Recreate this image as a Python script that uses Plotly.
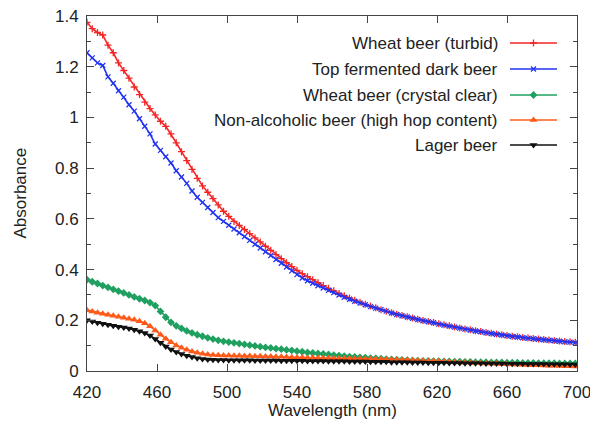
import plotly.graph_objects as go

# Wavelength grid (nm), one reading every 3 nm
wavelength = list(range(420, 700, 3))

wheat_turbid = [
    1.375, 1.350, 1.335, 1.325, 1.285, 1.255, 1.215, 1.185, 1.155, 1.120,
    1.090, 1.060, 1.035, 1.010, 0.985, 0.965, 0.935, 0.900, 0.865, 0.830,
    0.795, 0.760, 0.730, 0.705, 0.680, 0.655, 0.630, 0.610, 0.590, 0.574,
    0.558, 0.542, 0.525, 0.509, 0.492, 0.476, 0.459, 0.443, 0.427, 0.412,
    0.397, 0.384, 0.372, 0.360, 0.348, 0.337, 0.326, 0.316, 0.306, 0.297,
    0.288, 0.279, 0.271, 0.263, 0.256, 0.249, 0.242, 0.236, 0.230, 0.224,
    0.219, 0.214, 0.209, 0.204, 0.199, 0.195, 0.191, 0.186, 0.182, 0.178,
    0.174, 0.170, 0.166, 0.163, 0.159, 0.156, 0.152, 0.149, 0.146, 0.143,
    0.140, 0.137, 0.135, 0.132, 0.130, 0.128, 0.126, 0.124, 0.122, 0.120,
    0.118, 0.116, 0.115, 0.113,
]

top_fermented_dark = [
    1.255, 1.235, 1.215, 1.205, 1.160, 1.135, 1.105, 1.080, 1.050, 1.025,
    0.995, 0.965, 0.935, 0.895, 0.870, 0.845, 0.820, 0.790, 0.765, 0.740,
    0.710, 0.685, 0.665, 0.645, 0.625, 0.605, 0.590, 0.575, 0.560, 0.545,
    0.530, 0.515, 0.500, 0.485, 0.470, 0.455, 0.440, 0.425, 0.410, 0.395,
    0.380, 0.367, 0.356, 0.346, 0.336, 0.327, 0.318, 0.309, 0.300, 0.291,
    0.283, 0.275, 0.268, 0.261, 0.254, 0.248, 0.242, 0.236, 0.229, 0.223,
    0.218, 0.213, 0.208, 0.203, 0.198, 0.194, 0.190, 0.185, 0.181, 0.177,
    0.173, 0.169, 0.165, 0.162, 0.158, 0.155, 0.151, 0.148, 0.145, 0.142,
    0.139, 0.136, 0.134, 0.131, 0.129, 0.127, 0.125, 0.123, 0.121, 0.119,
    0.117, 0.115, 0.114, 0.112,
]

wheat_crystal_clear = [
    0.360, 0.352, 0.345, 0.337, 0.330, 0.322, 0.315, 0.308, 0.300, 0.292,
    0.285, 0.278, 0.270, 0.258, 0.235, 0.212, 0.192, 0.178, 0.168, 0.158,
    0.150, 0.143, 0.137, 0.131, 0.126, 0.121, 0.117, 0.114, 0.111, 0.108,
    0.105, 0.102, 0.099, 0.096, 0.093, 0.091, 0.088, 0.086, 0.083, 0.081,
    0.078, 0.076, 0.073, 0.071, 0.069, 0.067, 0.065, 0.063, 0.061, 0.059,
    0.057, 0.056, 0.054, 0.053, 0.051, 0.050, 0.049, 0.047, 0.046, 0.045,
    0.044, 0.043, 0.042, 0.041, 0.040, 0.040, 0.039, 0.039, 0.038, 0.038,
    0.037, 0.037, 0.036, 0.036, 0.035, 0.035, 0.035, 0.034, 0.034, 0.034,
    0.033, 0.033, 0.033, 0.032, 0.032, 0.032, 0.031, 0.031, 0.031, 0.031,
    0.030, 0.030, 0.030, 0.030,
]

non_alcoholic_hop = [
    0.240, 0.235, 0.230, 0.226, 0.222, 0.218, 0.214, 0.210, 0.206, 0.202,
    0.196, 0.188, 0.176, 0.160, 0.143, 0.127, 0.113, 0.101, 0.092, 0.084,
    0.077, 0.072, 0.068, 0.065, 0.063, 0.062, 0.061, 0.061, 0.060, 0.060,
    0.059, 0.059, 0.058, 0.058, 0.057, 0.057, 0.056, 0.056, 0.055, 0.054,
    0.053, 0.053, 0.052, 0.052, 0.051, 0.051, 0.050, 0.050, 0.049, 0.049,
    0.049, 0.048, 0.048, 0.047, 0.047, 0.046, 0.046, 0.045, 0.045, 0.044,
    0.043, 0.043, 0.042, 0.041, 0.040, 0.039, 0.039, 0.038, 0.037, 0.036,
    0.035, 0.034, 0.034, 0.033, 0.032, 0.031, 0.030, 0.030, 0.029, 0.028,
    0.027, 0.026, 0.026, 0.025, 0.024, 0.023, 0.023, 0.022, 0.021, 0.021,
    0.020, 0.019, 0.019, 0.018,
]

lager = [
    0.200, 0.195, 0.190, 0.186, 0.182, 0.178, 0.175, 0.172, 0.168, 0.163,
    0.157, 0.150, 0.140, 0.126, 0.111, 0.097, 0.085, 0.075, 0.067, 0.060,
    0.055, 0.050, 0.047, 0.045, 0.044, 0.043, 0.043, 0.042, 0.042, 0.042,
    0.042, 0.042, 0.041, 0.041, 0.041, 0.041, 0.041, 0.040, 0.040, 0.040,
    0.040, 0.040, 0.039, 0.039, 0.039, 0.039, 0.038, 0.038, 0.038, 0.038,
    0.037, 0.037, 0.037, 0.037, 0.036, 0.036, 0.036, 0.036, 0.035, 0.035,
    0.035, 0.035, 0.034, 0.034, 0.034, 0.033, 0.033, 0.033, 0.033, 0.032,
    0.032, 0.032, 0.031, 0.031, 0.031, 0.031, 0.030, 0.030, 0.030, 0.030,
    0.029, 0.029, 0.029, 0.029, 0.028, 0.028, 0.028, 0.028, 0.027, 0.027,
    0.027, 0.027, 0.026, 0.026,
]

series_names = [
    "Wheat beer (turbid)",
    "Top fermented dark beer",
    "Wheat beer (crystal clear)",
    "Non-alcoholic beer (high hop content)",
    "Lager beer",
]
series_values = [wheat_turbid, top_fermented_dark, wheat_crystal_clear,
                 non_alcoholic_hop, lager]
series_colors = ["#f42525", "#2233f2", "#20a060", "#ff5a1a", "#111111"]
series_symbols = ["cross-thin", "x-thin", "diamond", "triangle-up", "triangle-down"]
series_sizes = [5, 5, 6, 7, 7]

x_ticks = [420, 460, 500, 540, 580, 620, 660, 700]

FONT = "Liberation Sans, Arial, sans-serif"
TEXT = "#222222"
AXIS = "#444444"
FS = 17


def marker_style(color, symbol, size):
    thin = symbol.endswith("-thin")
    return dict(
        symbol=symbol,
        size=size,
        color=color,
        line=dict(color=color, width=1.3 if thin else 0),
    )


fig = go.Figure()

for name, vals, col, sym, sz in zip(series_names, series_values, series_colors,
                                    series_symbols, series_sizes):
    fig.add_trace(go.Scatter(
        x=wavelength, y=vals, mode="lines+markers", name=name,
        line=dict(color=col, width=1.6),
        marker=marker_style(col, sym, sz),
        showlegend=False,
    ))

L, R, T, B = 87, 13, 16, 50
W, H = 590, 421

# Key drawn inside the frame: label on the left, line sample on the right.
# It lives on an overlay axis pair measured in pixels of the plot area.
key_rows = [43, 69, 95, 120, 145]
key_line_x = [510, 557]
key_text_x = 500
for name, col, sym, sz, row in zip(series_names, series_colors, series_symbols,
                                   series_sizes, key_rows):
    fig.add_trace(go.Scatter(
        x=key_line_x, y=[row, row], mode="lines", xaxis="x2", yaxis="y2",
        line=dict(color=col, width=1.6), showlegend=False, hoverinfo="skip",
    ))
    fig.add_trace(go.Scatter(
        x=[sum(key_line_x) / 2], y=[row], mode="markers", xaxis="x2", yaxis="y2",
        marker=marker_style(col, sym, sz), showlegend=False, hoverinfo="skip",
    ))
    fig.add_annotation(
        x=key_text_x, y=row, xref="x2", yref="y2", text=name, showarrow=False,
        xanchor="right", yanchor="middle",
        font=dict(family=FONT, size=FS, color=TEXT),
    )

# Axis titles as free text so the frame keeps its fixed margins
fig.add_annotation(
    x=0.5, y=0, xref="paper", yref="paper", yshift=-39, text="Wavelength (nm)",
    showarrow=False, xanchor="center", yanchor="middle",
    font=dict(family=FONT, size=FS, color=TEXT),
)
fig.add_annotation(
    x=0, y=0.5, xref="paper", yref="paper", xshift=-67, text="Absorbance",
    showarrow=False, xanchor="center", yanchor="middle", textangle=-90,
    font=dict(family=FONT, size=FS, color=TEXT),
)

fig.update_layout(
    width=W, height=H,
    margin=dict(l=L, r=R, t=T, b=B, pad=0, autoexpand=False),
    paper_bgcolor="white", plot_bgcolor="white",
    font=dict(family=FONT, size=FS, color=TEXT),
    showlegend=False,
    xaxis=dict(
        range=[420, 700], tickmode="array", tickvals=x_ticks,
        ticks="inside", ticklen=7, tickwidth=1, tickcolor=AXIS,
        showline=True, linecolor=AXIS, linewidth=1, mirror="allticks",
        showgrid=False, zeroline=False, automargin=False,
        tickfont=dict(family=FONT, size=FS, color=TEXT),
        ticklabelstandoff=6,
        ticklabeloverflow="allow",
    ),
    yaxis=dict(
        range=[0, 1.4], dtick=0.2, tick0=0,
        ticks="inside", ticklen=7, tickwidth=1, tickcolor=AXIS,
        minor=dict(ticks="inside", ticklen=4, dtick=0.1, tickcolor=AXIS, showgrid=False),
        showline=True, linecolor=AXIS, linewidth=1, mirror="allticks",
        showgrid=False, zeroline=False, automargin=False,
        tickfont=dict(family=FONT, size=FS, color=TEXT),
        ticklabelstandoff=4,
        ticklabeloverflow="allow",
    ),
    xaxis2=dict(range=[L, W - R], overlaying="x", visible=False, fixedrange=True),
    yaxis2=dict(range=[H - B, T], overlaying="y", visible=False, fixedrange=True),
)

fig.write_html("out.html")
